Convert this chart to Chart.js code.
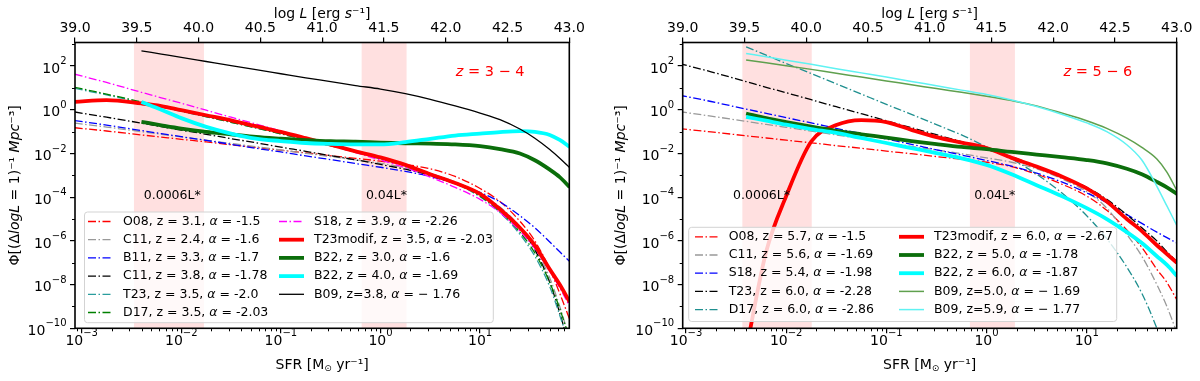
<!DOCTYPE html>
<html>
<head>
<meta charset="utf-8">
<script src="https://cdn.jsdelivr.net/npm/chart.js@4.4.1/dist/chart.umd.min.js"></script>
<style>
  html, body { margin: 0; padding: 0; background: #fff; }
  #wrap { position: relative; width: 1200px; height: 381px; }
  .panel { position: absolute; top: 0; width: 600px; height: 381px; }
</style>
</head>
<body>
<div id="wrap">
  <div class="panel" style="left:0"><canvas id="left" width="600" height="381"></canvas></div>
  <div class="panel" style="left:600px"><canvas id="right" width="600" height="381"></canvas></div>
</div>
<script>
const logSFR = [-3.07, -2.75, -2.4, -2.2, -2, -1.75, -1.5, -1.25, -1, -0.75, -0.5, -0.25, 0, 0.25, 0.5, 0.75, 1, 1.2, 1.4, 1.55, 1.7, 1.8, 1.9];

const xMajor = [1e-3, 1e-2, 1e-1, 1, 10];
const yMajor = [1e-10, 1e-8, 1e-6, 1e-4, 1e-2, 1, 100];
const topTicks = [39, 39.5, 40, 40.5, 41, 41.5, 42, 42.5, 43];

// left panel, z = 3-4, values are log10 Phi
const o08L  = [-0.82, -0.97, -1.15, -1.25, -1.35, -1.47, -1.6, -1.72, -1.85, -1.97, -2.1, -2.22, -2.35, -2.5, -2.7, -3.05, -3.6, -4.2, -5.1, -6.0, -7.3, -8.4, -9.6];
const c11aL = [-0.61, -0.79, -1.0, -1.12, -1.24, -1.39, -1.54, -1.69, -1.84, -1.99, -2.14, -2.29, -2.45, -2.65, -2.92, -3.3, -3.85, -4.45, -5.35, -6.3, -7.7, -9.0, -10.5];
const b11L  = [-0.49, -0.7, -0.95, -1.09, -1.23, -1.4, -1.58, -1.76, -1.93, -2.11, -2.28, -2.46, -2.63, -2.82, -3.05, -3.38, -3.78, -4.22, -4.85, -5.4, -6.05, -6.5, -6.95];
const c11bL = [-0.1, -0.34, -0.61, -0.77, -0.93, -1.12, -1.32, -1.51, -1.71, -1.9, -2.1, -2.29, -2.5, -2.72, -3.0, -3.38, -3.9, -4.5, -5.4, -6.4, -7.9, -9.3, -10.9];
const t23L  = [0.98, 0.68, 0.33, 0.13, -0.07, -0.32, -0.57, -0.83, -1.1, -1.36, -1.63, -1.92, -2.22, -2.54, -2.92, -3.37, -3.98, -4.7, -5.7, -6.7, -8.1, -9.4, -10.8];
const d17L  = [1.03, 0.72, 0.36, 0.15, -0.05, -0.31, -0.57, -0.83, -1.1, -1.37, -1.65, -1.94, -2.24, -2.55, -2.92, -3.35, -3.95, -4.65, -5.6, -6.55, -7.9, -9.1, -10.5];
const s18L  = [1.63, 1.25, 0.8, 0.55, 0.3, -0.02, -0.34, -0.65, -0.97, -1.29, -1.63, -1.96, -2.3, -2.65, -3.08, -3.55, -4.1, -4.7, -5.55, -6.35, -7.4, -8.15, -9.0];
const t23mL = [0.36, 0.44, 0.29, 0.17, -0.02, -0.25, -0.48, -0.75, -1.01, -1.3, -1.6, -1.9, -2.18, -2.52, -2.95, -3.35, -3.85, -4.55, -5.4, -6.2, -7.3, -8.0, -8.8];
const b22aL = [null, null, -0.55, -0.71, -0.86, -1.01, -1.12, -1.24, -1.32, -1.39, -1.44, -1.46, -1.5, -1.53, -1.55, -1.58, -1.66, -1.8, -2.0, -2.31, -2.74, -3.08, -3.54];
const b22bL = [null, null, 0.36, 0.0, -0.38, -0.78, -1.09, -1.32, -1.43, -1.52, -1.56, -1.58, -1.58, -1.48, -1.33, -1.18, -1.09, -1.02, -0.98, -1.01, -1.15, -1.38, -1.7];
const b09L  = [null, null, 2.7, 2.55, 2.4, 2.21, 2.02, 1.84, 1.65, 1.46, 1.29, 1.11, 0.95, 0.74, 0.48, 0.18, -0.15, -0.45, -0.88, -1.3, -1.82, -2.22, -2.65];

// right panel, z = 5-6
const o08R  = [-0.86, -1.01, -1.19, -1.29, -1.39, -1.51, -1.64, -1.76, -1.89, -2.01, -2.14, -2.26, -2.4, -2.6, -2.95, -3.4, -3.95, -4.6, -5.5, -6.3, -7.3, -7.9, -8.7];
const c11R  = [-0.08, -0.29, -0.53, -0.67, -0.8, -0.98, -1.15, -1.32, -1.49, -1.67, -1.84, -2.01, -2.2, -2.4, -2.7, -3.15, -3.75, -4.5, -5.7, -6.7, -8.0, -9.0, -10.2];
const s18R  = [0.67, 0.38, 0.03, -0.16, -0.36, -0.6, -0.85, -1.09, -1.34, -1.58, -1.83, -2.07, -2.32, -2.58, -2.9, -3.3, -3.8, -4.25, -4.8, -5.2, -5.6, -5.85, -6.1];
const t23R  = [2.12, 1.74, 1.29, 1.03, 0.78, 0.46, 0.14, -0.18, -0.5, -0.82, -1.14, -1.46, -1.8, -2.15, -2.6, -3.05, -3.55, -4.1, -4.8, -5.4, -6.0, -6.5, -6.95];
const d17R  = [null, null, 2.88, 2.5, 2.12, 1.66, 1.19, 0.72, 0.25, -0.21, -0.68, -1.15, -1.7, -2.25, -2.95, -3.8, -4.85, -5.9, -7.2, -8.4, -10.0, -11.3, -12.8];
const t23mR = [null, null, -11, -6.5, -3.95, -1.45, -0.7, -0.47, -0.56, -0.92, -1.25, -1.5, -1.75, -2.2, -2.6, -3.05, -3.6, -4.2, -5.0, -5.55, -6.2, -6.6, -7.0];
const b22aR = [null, null, -0.17, -0.38, -0.56, -0.77, -0.96, -1.12, -1.27, -1.43, -1.57, -1.7, -1.8, -1.93, -2.05, -2.17, -2.3, -2.45, -2.7, -2.95, -3.3, -3.55, -3.85];
const b22bR = [null, null, -0.32, -0.5, -0.68, -0.88, -1.06, -1.29, -1.52, -1.75, -1.98, -2.22, -2.52, -2.95, -3.45, -3.95, -4.5, -5.0, -5.6, -6.1, -6.7, -7.1, -7.6];
const b09aR = [null, null, 2.28, 2.15, 2.02, 1.85, 1.67, 1.5, 1.32, 1.15, 0.97, 0.8, 0.62, 0.42, 0.18, -0.15, -0.5, -0.85, -1.3, -1.72, -2.25, -2.85, -3.7];
const b09bR = [null, null, 2.58, 2.43, 2.27, 2.08, 1.88, 1.69, 1.5, 1.3, 1.1, 0.9, 0.7, 0.45, 0.15, -0.2, -0.6, -1.0, -1.6, -2.3, -3.5, -4.4, -5.3];

const DD = [8, 2.5, 1.5, 2.5]; // dash-dot
const FONT = '"DejaVu Sans", sans-serif';

const leftSeries = [
  {label: 'O08, z = 3.1, α = -1.5', data: o08L, color: '#ff0000', width: 1.3, dash: DD},
  {label: 'C11, z = 2.4, α = -1.6', data: c11aL, color: '#999999', width: 1.3, dash: DD},
  {label: 'B11, z = 3.3, α = -1.7', data: b11L, color: '#0000ff', width: 1.3, dash: DD},
  {label: 'C11, z = 3.8, α = -1.78', data: c11bL, color: '#000000', width: 1.3, dash: DD},
  {label: 'T23, z = 3.5, α = -2.0', data: t23L, color: '#2a9d9d', width: 1.3, dash: DD},
  {label: 'D17, z = 3.5, α = -2.03', data: d17L, color: '#008000', width: 1.3, dash: DD},
  {label: 'S18, z = 3.9, α = -2.26', data: s18L, color: '#ff00ff', width: 1.3, dash: DD},
  {label: 'T23modif, z = 3.5, α = -2.03', data: t23mL, color: '#ff0000', width: 3.8},
  {label: 'B22, z = 3.0, α = -1.6', data: b22aL, color: '#0b6e0b', width: 3.8},
  {label: 'B22, z = 4.0, α = -1.69', data: b22bL, color: '#00ffff', width: 3.8},
  {label: 'B09, z=3.8, α = − 1.76', data: b09L, color: '#000000', width: 1.3}
];

const rightSeries = [
  {label: 'O08, z = 5.7, α = -1.5', data: o08R, color: '#ff0000', width: 1.3, dash: DD},
  {label: 'C11, z = 5.6, α = -1.69', data: c11R, color: '#999999', width: 1.3, dash: DD},
  {label: 'S18, z = 5.4, α = -1.98', data: s18R, color: '#0000ff', width: 1.3, dash: DD},
  {label: 'T23, z = 6.0, α = -2.28', data: t23R, color: '#000000', width: 1.3, dash: DD},
  {label: 'D17, z = 6.0, α = -2.86', data: d17R, color: '#1f8f8f', width: 1.3, dash: DD},
  {label: 'T23modif, z = 6.0, α = -2.67', data: t23mR, color: '#ff0000', width: 3.8},
  {label: 'B22, z = 5.0, α = -1.78', data: b22aR, color: '#0b6e0b', width: 3.8},
  {label: 'B22, z = 6.0, α = -1.87', data: b22bR, color: '#00ffff', width: 3.8},
  {label: 'B09, z=5.0, α = − 1.69', data: b09aR, color: '#5fa04e', width: 1.5},
  {label: 'B09, z=5.9, α = − 1.77', data: b09bR, color: '#5ff2f2', width: 1.5}
];

function segs(ctx, parts, cx, cy, size, color, rotate, alignLeft) {
  ctx.save();
  ctx.translate(cx, cy);
  if (rotate) ctx.rotate(-Math.PI / 2);
  ctx.fillStyle = color;
  ctx.textBaseline = 'middle';
  ctx.textAlign = 'left';
  let total = 0;
  parts.forEach(p => {
    ctx.font = (p.it ? 'italic ' : '') + (p.size || size) + 'px ' + FONT;
    p.w = ctx.measureText(p.t).width;
    total += p.w;
  });
  let x = alignLeft ? 0 : -total / 2;
  parts.forEach(p => {
    ctx.font = (p.it ? 'italic ' : '') + (p.size || size) + 'px ' + FONT;
    ctx.fillText(p.t, x, p.dy || 0);
    x += p.w;
  });
  ctx.restore();
}

// "10" with a raised exponent, like matplotlib's log tick labels
function powLabel(ctx, e, x, y, align) {
  const exp = String(e).replace('-', '−');
  ctx.font = '14px ' + FONT;
  const wb = ctx.measureText('10').width;
  ctx.font = '10px ' + FONT;
  const we = ctx.measureText(exp).width;
  const x0 = align === 'right' ? x - wb - we : x - (wb + we) / 2;
  ctx.font = '14px ' + FONT;
  ctx.fillText('10', x0, y);
  ctx.font = '10px ' + FONT;
  ctx.fillText(exp, x0 + wb, y - 7.5);
}

const decor = {
  id: 'decor',
  beforeDatasetsDraw(chart, args, o) {
    const {ctx, chartArea: a, scales: {x}} = chart;
    ctx.save();
    ctx.fillStyle = 'rgba(255, 0, 0, 0.12)';
    o.bands.forEach(([lo, hi]) => {
      const x0 = x.getPixelForValue(lo), x1 = x.getPixelForValue(hi);
      ctx.fillRect(x0, a.top, x1 - x0, a.bottom - a.top);
    });
    ctx.restore();
  },
  afterDatasetsDraw(chart, args, o) {
    const {ctx, scales: {x, y}} = chart;
    ctx.save();
    ctx.fillStyle = '#000';
    ctx.textBaseline = 'middle';
    ctx.textAlign = 'left';
    ctx.font = '12.5px ' + FONT;
    o.bandText.forEach(b => ctx.fillText(b.text, x.getPixelForValue(b.x), y.getPixelForValue(b.y)));
    segs(ctx, [{t: 'z', it: true}, {t: ' = ' + o.zText}], x.getPixelForValue(o.zPos[0]), y.getPixelForValue(o.zPos[1]), 14.5, '#ff0000');

    // legend, two columns filled top to bottom
    const L = o.legend;
    const [bx0, by0, bx1, by1] = L.box;
    ctx.beginPath();
    if (ctx.roundRect) ctx.roundRect(bx0, by0, bx1 - bx0, by1 - by0, 3);
    else ctx.rect(bx0, by0, bx1 - bx0, by1 - by0);
    ctx.fillStyle = 'rgba(255,255,255,0.8)';
    ctx.fill();
    ctx.strokeStyle = '#d3d3d3';
    ctx.lineWidth = 1;
    ctx.stroke();
    chart.data.datasets.forEach((d, i) => {
      const c = L.cols[i < L.rows ? 0 : 1];
      const yy = L.y0 + (i % L.rows) * L.step;
      ctx.beginPath();
      ctx.setLineDash(d.borderDash || []);
      ctx.strokeStyle = d.borderColor;
      ctx.lineWidth = d.borderWidth;
      ctx.moveTo(c[0], yy);
      ctx.lineTo(c[1], yy);
      ctx.stroke();
      ctx.setLineDash([]);
      const [pre, post] = d.label.split('α');
      segs(ctx, [{t: pre}, {t: 'α', it: true}, {t: post}], c[2], yy, 12.5, '#000', false, true);
    });
    ctx.restore();
  },
  afterDraw(chart, args, o) {
    const {ctx, chartArea: a, scales: {x, y}} = chart;
    ctx.save();
    ctx.strokeStyle = '#000';
    ctx.lineWidth = 1;
    ctx.beginPath();
    for (let e = -4; e <= 1; e++) {
      for (let k = 2; k <= 9; k++) {
        const v = k * Math.pow(10, e);
        if (v < x.min || v > x.max) continue;
        const px = Math.round(x.getPixelForValue(v)) + 0.5;
        ctx.moveTo(px, a.bottom);
        ctx.lineTo(px, a.bottom + 3);
      }
    }
    for (let e = -9; e <= 3; e += 2) {
      const v = Math.pow(10, e);
      if (v > y.max) continue;
      const py = Math.round(y.getPixelForValue(v)) + 0.5;
      ctx.moveTo(a.left, py);
      ctx.lineTo(a.left - 3, py);
    }
    ctx.stroke();
    ctx.lineWidth = 1.6;
    ctx.strokeRect(a.left, a.top, a.right - a.left, a.bottom - a.top);

    // log tick labels
    ctx.fillStyle = '#000';
    ctx.textBaseline = 'middle';
    ctx.textAlign = 'left';
    xMajor.forEach(v => powLabel(ctx, Math.round(Math.log10(v)), x.getPixelForValue(v), a.bottom + 13, 'center'));
    yMajor.forEach(v => powLabel(ctx, Math.round(Math.log10(v)), a.left - 8.5, y.getPixelForValue(v) + 3, 'right'));
    ctx.restore();

    const cx = (a.left + a.right) / 2;
    segs(ctx, [{t: 'log '}, {t: 'L', it: true}, {t: ' [erg '}, {t: 's', it: true}, {t: '⁻¹]'}], cx, 14, 14, '#000');
    segs(ctx, [{t: 'SFR [M'}, {t: '⊙', size: 9, dy: 3}, {t: ' yr⁻¹]'}], cx, 365.5, 14, '#000');
    segs(ctx, [{t: 'Φ[(Δ'}, {t: 'logL', it: true}, {t: ' = 1)⁻¹ '}, {t: 'Mpc', it: true}, {t: '⁻³]'}],
      o.yTitleX, (a.top + a.bottom) / 2, 14, '#000', true);
  }
};

function makeChart(id, series, cfg) {
  const n = series.length;
  const tickFont = {family: FONT, size: 14};
  const tickGrid = {drawOnChartArea: false, drawTicks: true, tickLength: 5, color: '#000', lineWidth: 1.2};
  return new Chart(document.getElementById(id), {
    type: 'line',
    data: {
      datasets: series.map((s, i) => ({
        label: s.label,
        data: logSFR.map((l, j) => ({x: Math.pow(10, l), y: s.data[j] === null ? null : Math.pow(10, s.data[j])})),
        borderColor: s.color,
        borderWidth: s.width,
        borderDash: s.dash || [],
        pointRadius: 0,
        fill: false,
        cubicInterpolationMode: 'monotone',
        spanGaps: false,
        order: n - i
      }))
    },
    options: {
      responsive: false,
      animation: false,
      devicePixelRatio: 1,
      layout: {padding: {left: 0, right: cfg.padRight, top: 0, bottom: 0}},
      plugins: {legend: {display: false}, tooltip: {enabled: false}, decor: cfg},
      scales: {
        x: {
          type: 'logarithmic', position: 'bottom',
          min: cfg.xMin, max: cfg.xMax,
          afterBuildTicks: s => { s.ticks = xMajor.map(v => ({value: v})); },
          afterFit: s => { s.height = 52.7; },
          ticks: {display: false, autoSkip: false},
          grid: tickGrid,
          border: {display: false}
        },
        x2: {
          type: 'linear', position: 'top', min: 39, max: 43,
          afterBuildTicks: s => { s.ticks = topTicks.map(v => ({value: v})); },
          afterFit: s => { s.height = 42.5; },
          ticks: {color: '#000', font: tickFont, padding: 1, autoSkip: false, maxRotation: 0,
                  callback: v => v.toFixed(1)},
          grid: tickGrid,
          border: {display: false}
        },
        y: {
          type: 'logarithmic', position: 'left',
          min: 1e-10, max: Math.pow(10, 3.08),
          afterBuildTicks: s => { s.ticks = yMajor.map(v => ({value: v})); },
          afterFit: s => { s.width = cfg.yWidth; },
          ticks: {display: false, autoSkip: false},
          grid: tickGrid,
          border: {display: false}
        }
      }
    },
    plugins: [decor]
  });
}

makeChart('left', leftSeries, {
  xMin: Math.pow(10, -3.067), xMax: Math.pow(10, 1.896),
  yWidth: 75, padRight: 30.7, yTitleX: 15,
  bands: [[0.00335, 0.0169], [0.647, 1.83]],
  bandText: [{text: '0.0006L*', x: 0.0042, y: 1.2e-4}, {text: '0.04L*', x: 0.714, y: 1.2e-4}],
  zText: '3 − 4', zPos: [12.6, 55],
  legend: {box: [84.5, 212, 493.3, 322.7], rows: 6, y0: 221.5, step: 18.2,
           cols: [[88, 113, 123], [279, 304, 314]]}
});

makeChart('right', rightSeries, {
  xMin: Math.pow(10, -3.033), xMax: Math.pow(10, 1.898),
  yWidth: 82.7, padRight: 23.3, yTitleX: 21.7,
  bands: [[0.00365, 0.018], [0.682, 1.92]],
  bandText: [{text: '0.0006L*', x: 0.00295, y: 1.2e-4}, {text: '0.04L*', x: 0.753, y: 1.2e-4}],
  zText: '5 − 6', zPos: [12.9, 55],
  legend: {box: [88.7, 227.3, 516.7, 321.5], rows: 5, y0: 236.8, step: 18.2,
           cols: [[95, 120, 128.7], [299, 324, 334]]}
});
</script>
</body>
</html>
